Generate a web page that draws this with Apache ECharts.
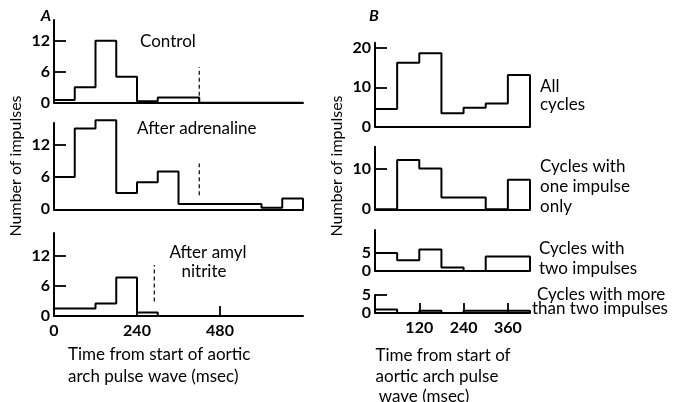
<!DOCTYPE html>
<html>
<head>
<meta charset="utf-8">
<script src="https://cdn.jsdelivr.net/npm/echarts@6/dist/echarts.min.js"></script>
<style>
html,body{margin:0;padding:0;background:#fff;}
#chart{width:678px;height:402px;}
</style>
</head>
<body>
<div id="chart"></div>
<script>
// ---------- DATA ----------
// Panel A: impulses per 60-msec bin, 0..720 msec
const binWidthA = 60;
const controlCounts    = [0.5, 3, 12, 5, 0.3, 1, 1, 0, 0, 0, 0, 0];
const adrenalineCounts = [6, 15, 16.5, 3, 5, 7, 1, 1, 1, 1, 0.3, 2];
const amylCounts       = [1.5, 1.5, 2.5, 7.7, 0.7, 0, 0, 0, 0, 0, 0, 0];
// dashed markers (msec, from value, to value)
const controlDash    = [420, 0, 6.9];
const adrenalineDash = [420, 2.6, 8.5];
const amylDash       = [290, 2.9, 10.2];
const aYTicks = [0, 6, 12];
const aXTicks = [0, 240, 480];

// Panel B: impulses per 60-msec bin, 0..420 msec
const binWidthB = 60;
const allCycles    = [4.5, 16.2, 18.6, 3.4, 4.8, 5.9, 13.1];
const oneImpulse   = [0, 12.2, 10.1, 2.9, 2.9, 0, 7.3];
const twoImpulses  = [5, 3, 6, 1, 0, 4, 4];
const moreImpulses = [1, 0, 0.6, 0, 0.6, 0.6, 0.6];
const bXTicks = [120, 240, 360];
const bAllYTicks = [0, 10, 20];
const bOneYTicks = [0, 10];
const bTwoYTicks = [0, 5];
const bMoreYTicks = [0, 5];

// ---------- BUILD ----------
const FONT = 'Lato';
const TXT = 17;
function histPoints(counts, w) {
  const pts = [[0, 0]];
  counts.forEach((v, i) => pts.push([i * w, v]));
  pts.push([counts.length * w, 0]);
  return pts;
}

const panels = [
  {grid:{left:54, top:20,  width:249, height:82.7}, xmax:720, ymax:16,   yt:aYTicks, xt:null,    counts:controlCounts,    w:binWidthA, dash:controlDash},
  {grid:{left:54, top:123, width:249, height:86.3}, xmax:720, ymax:16,   yt:aYTicks, xt:null,    counts:adrenalineCounts, w:binWidthA, dash:adrenalineDash},
  {grid:{left:54, top:233, width:249, height:83},   xmax:720, ymax:16.6, yt:aYTicks, xt:aXTicks, counts:amylCounts,       w:binWidthA, dash:amylDash},
  {grid:{left:375, top:42.7, width:155, height:84},  xmax:420, ymax:21.3, yt:bAllYTicks,  xt:null,    counts:allCycles,    w:binWidthB},
  {grid:{left:375, top:146.7,width:155, height:62.6},xmax:420, ymax:15.5, yt:bOneYTicks,  xt:null,    counts:oneImpulse,   w:binWidthB},
  {grid:{left:375, top:230,  width:155, height:41},  xmax:420, ymax:11.4, yt:bTwoYTicks,  xt:null,    counts:twoImpulses,  w:binWidthB},
  {grid:{left:375, top:295,  width:155, height:18},  xmax:420, ymax:5,    yt:bMoreYTicks, xt:bXTicks, counts:moreImpulses, w:binWidthB}
];

const grids = [], xAxes = [], yAxes = [], series = [];
const axisLineStyle = {color:'#000', width:2};
const tickFont = {color:'#000', fontFamily:FONT, fontSize:16, fontWeight:'bold'};
panels.forEach((p, i) => {
  grids.push(Object.assign({containLabel:false}, p.grid));
  xAxes.push({
    type:'value', gridIndex:i, min:0, max:p.xmax,
    axisLine:{show:true, onZero:false, lineStyle:axisLineStyle},
    axisTick: p.xt ? {show:true, inside:true, length:10, customValues:p.xt, lineStyle:{color:'#000', width:1.8}} : {show:false},
    axisLabel: p.xt ? Object.assign({show:true, customValues:p.xt, margin:7}, tickFont) : {show:false},
    splitLine:{show:false}
  });
  yAxes.push({
    type:'value', gridIndex:i, min:0, max:p.ymax,
    axisLine:{show:true, onZero:false, lineStyle:axisLineStyle},
    axisTick:{show:true, inside:true, length:12, customValues:p.yt.filter(v=>v>0), lineStyle:{color:'#000', width:1.8}},
    axisLabel:Object.assign({show:true, customValues:p.yt, margin:4}, tickFont),
    splitLine:{show:false}
  });
  series.push({
    type:'line', xAxisIndex:i, yAxisIndex:i, step:'end', symbol:'none', clip:false,
    data:histPoints(p.counts, p.w), lineStyle:{color:'#000', width:2}, silent:true, animation:false
  });
  if (p.dash) {
    series.push({
      type:'line', xAxisIndex:i, yAxisIndex:i, symbol:'none', clip:false,
      data:[[p.dash[0], p.dash[1]], [p.dash[0], p.dash[2]]],
      lineStyle:{color:'#000', width:1.2, type:[4,3]}, silent:true, animation:false
    });
  }
});

function txt(text, x, y, opts) {
  opts = opts || {};
  return {
    type:'text', x:x, y:y, rotation:opts.rot || 0,
    style:{text:text, fill:'#000', align:opts.align || 'left', verticalAlign:'middle',
      font:(opts.style||'normal') + ' ' + (opts.weight||'normal') + ' ' + (opts.size||TXT) + 'px ' + FONT}
  };
}

const graphics = [
  txt('A', 46, 16, {align:'center', style:'italic', weight:'bold', size:16}),
  txt('Control', 140, 42),
  txt('After adrenaline', 137, 129),
  txt('After amyl', 208, 253, {align:'center'}),
  txt('nitrite', 204, 272, {align:'center'}),
  txt('Number of impulses', 16, 166, {align:'center', rot:Math.PI/2, size:16}),
  txt('Time from start of aortic', 68, 355),
  txt('arch pulse wave (msec)', 68, 377),
  txt('B', 374, 16, {align:'center', style:'italic', weight:'bold', size:16}),
  txt('Number of impulses', 337, 166, {align:'center', rot:Math.PI/2, size:16}),
  txt('All', 540, 87),
  txt('cycles', 540, 105),
  txt('Cycles with', 540, 167),
  txt('one impulse', 540, 187),
  txt('only', 540, 207),
  txt('Cycles with', 539, 249),
  txt('two impulses', 539, 269),
  txt('Cycles with more', 537, 295),
  txt('than two impulses', 532, 309),
  txt('Time from start of', 443, 356, {align:'center'}),
  txt('aortic arch pulse', 437, 377, {align:'center'}),
  txt('wave (msec)', 424, 397, {align:'center'})
];

const chart = echarts.init(document.getElementById('chart'), null, {renderer:'canvas'});
chart.setOption({
  animation:false,
  backgroundColor:'#fff',
  grid:grids, xAxis:xAxes, yAxis:yAxes, series:series,
  graphic:graphics
});
</script>
</body>
</html>
